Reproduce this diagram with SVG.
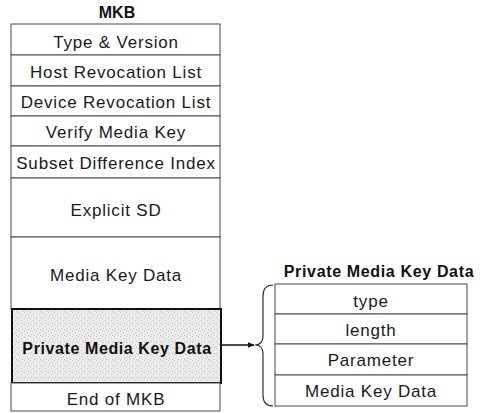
<svg xmlns="http://www.w3.org/2000/svg" width="487" height="413" viewBox="0 0 487 413">
  <style>
    .cell { fill: #ffffff; stroke: #4a4a4a; stroke-width: 1; }
    .lbl { font-family: "Liberation Sans", Arial, sans-serif; font-size: 17px; letter-spacing: 0.8px; fill: #1a1a1a; text-anchor: middle; }
    .hd { font-family: "Liberation Sans", Arial, sans-serif; font-size: 16px; font-weight: bold; fill: #111; text-anchor: middle; }
    .conn { stroke: #111; stroke-width: 1.5; fill: none; }
  </style>
  <defs>
    <marker id="arrow" viewBox="0 0 10 10" refX="9" refY="5" markerWidth="7" markerHeight="7" orient="auto" markerUnits="userSpaceOnUse">
      <path d="M0,1 L10,5 L0,9 z" fill="#111"/>
    </marker>
    <pattern id="grain" width="6" height="6" patternUnits="userSpaceOnUse">
      <rect width="6" height="6" fill="#ececec"/>
      <rect x="0" y="0" width="1" height="1" fill="#bdbdbd"/>
      <rect x="3" y="2" width="1" height="1" fill="#c4c4c4"/>
      <rect x="1" y="4" width="1" height="1" fill="#cacaca"/>
      <rect x="4" y="5" width="1" height="1" fill="#c0c0c0"/>
    </pattern>
  </defs>

  <!-- MKB structure -->
  <g id="mkb">
    <text class="hd" x="117" y="18">MKB</text>
    <g id="type-version"><rect class="cell" x="11" y="24" width="209" height="31"/><text class="lbl" x="116" y="48">Type &amp; Version</text></g>
    <g id="host-revocation"><rect class="cell" x="11" y="55" width="209" height="31"/><text class="lbl" x="116" y="78">Host Revocation List</text></g>
    <g id="device-revocation"><rect class="cell" x="11" y="86" width="209" height="30"/><text class="lbl" x="116" y="108">Device Revocation List</text></g>
    <g id="verify-media-key"><rect class="cell" x="11" y="116" width="209" height="30"/><text class="lbl" x="116" y="138">Verify Media Key</text></g>
    <g id="subset-difference"><rect class="cell" x="11" y="146" width="209" height="32"/><text class="lbl" x="116" y="169">Subset Difference Index</text></g>
    <g id="explicit-sd"><rect class="cell" x="11" y="178" width="209" height="59"/><text class="lbl" x="116" y="216">Explicit SD</text></g>
    <g id="media-key-data"><rect class="cell" x="11" y="237" width="209" height="72"/><text class="lbl" x="116" y="281">Media Key Data</text></g>
    <g id="private-media-key-data"><rect x="12" y="309" width="209" height="74" fill="url(#grain)" stroke="#111" stroke-width="2"/><text class="hd" x="117" y="354" letter-spacing="0.6">Private Media Key Data</text></g>
    <g id="end-of-mkb"><rect class="cell" x="11" y="383" width="209" height="28"/><text class="lbl" x="116" y="405">End of MKB</text></g>
  </g>

  <!-- Private Media Key Data breakdown -->
  <g id="pmkd">
    <text class="hd" x="379" y="277" letter-spacing="0.65">Private Media Key Data</text>
    <g id="pmkd-type"><rect class="cell" x="275" y="284" width="192" height="30"/><text class="lbl" x="371" y="307">type</text></g>
    <g id="pmkd-length"><rect class="cell" x="275" y="314" width="192" height="30"/><text class="lbl" x="371" y="336">length</text></g>
    <g id="pmkd-parameter"><rect class="cell" x="275" y="344" width="192" height="31"/><text class="lbl" x="371" y="366">Parameter</text></g>
    <g id="pmkd-media-key-data"><rect class="cell" x="275" y="375" width="192" height="31"/><text class="lbl" x="371" y="397">Media Key Data</text></g>
  </g>

  <!-- connectors -->
  <g id="connectors">
    <line class="conn" x1="221" y1="345" x2="254" y2="345" marker-end="url(#arrow)"/>
    <path d="M273,285 Q263,285 263,296 L263,336 Q263,345 255,345 Q263,345 263,354 L263,395 Q263,406 273,406" fill="none" stroke="#333" stroke-width="1.2"/>
  </g>
</svg>
